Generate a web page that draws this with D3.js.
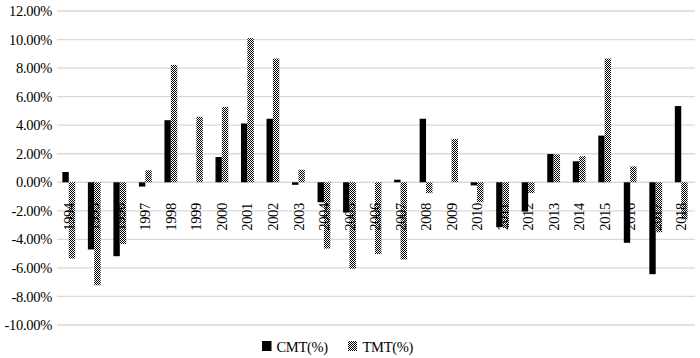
<!DOCTYPE html>
<html><head><meta charset="utf-8">
<script src="https://cdn.jsdelivr.net/npm/d3@7"></script>
<style>body{margin:0;background:#fff}svg{display:block}text{font-family:"Liberation Serif","Times New Roman",serif;fill:#000}</style>
</head><body><svg id="c" width="700" height="358"></svg>
<script>
const years = ["1994","1995","1996","1997","1998","1999","2000","2001","2002","2003","2004","2005","2006","2007","2008","2009","2010","2011","2012","2013","2014","2015","2016","2017","2018"];
const cmt = [0.72,-4.71,-5.18,-0.30,4.35,0,1.77,4.12,4.45,-0.18,-1.40,-2.12,0,0.18,4.45,0,-0.22,-3.15,-2.05,1.98,1.47,3.27,-4.24,-6.44,5.34];
const tmt = [-5.34,-7.22,-4.33,0.84,8.22,4.59,5.27,10.10,8.67,0.88,-4.64,-6.05,-5.03,-5.41,-0.76,3.04,-1.40,-3.20,-0.75,1.95,1.82,8.67,1.11,-3.50,-2.60];
const yTicks = [12,10,8,6,4,2,0,-2,-4,-6,-8,-10];
const seriesNames = ["CMT(%)","TMT(%)"];

const svg = d3.select("#c");
const defs = svg.append("defs");
const pat = defs.append("pattern").attr("id","xpat").attr("patternUnits","userSpaceOnUse").attr("width",4).attr("height",4);
pat.append("rect").attr("width",4).attr("height",4).attr("fill","#fff");
[[0,0],[1,1],[2,2],[3,3],[0,2],[2,0]].forEach(p=>pat.append("rect").attr("x",p[0]).attr("y",p[1]).attr("width",1).attr("height",1).attr("fill","#000"));
[[1,3],[3,1]].forEach(p=>pat.append("rect").attr("x",p[0]).attr("y",p[1]).attr("width",1).attr("height",1).attr("fill","#000"));

const y = d3.scaleLinear().domain([-10,12]).range([325,11]);
const x = d3.scaleBand().domain(years).range([56,694]).padding(0);
const x1 = d3.scaleBand().domain(seriesNames).range([x.bandwidth()/2-6.4, x.bandwidth()/2+6.4]).padding(0);

// gridlines
svg.append("g").selectAll("line").data(yTicks).join("line")
  .attr("x1",57).attr("x2",695).attr("y1",d=>y(d)).attr("y2",d=>y(d))
  .attr("stroke","#d9d9d9").attr("stroke-width",1.3);

// y labels
const fmt = d => d.toFixed(2) + "%";
svg.append("g").selectAll("text").data(yTicks).join("text")
  .attr("x",52).attr("y",d=>y(d)).attr("dy","0.35em").attr("text-anchor","end")
  .attr("font-size",14.5).attr("letter-spacing",-0.3).text(fmt);

const data = [cmt, tmt];
const fills = ["#000","url(#xpat)"];
data.forEach((vals,si)=>{
  svg.append("g").selectAll("rect").data(vals).join("rect")
    .attr("x",(d,i)=>x(years[i])+x1(seriesNames[si]))
    .attr("width",x1.bandwidth())
    .attr("y",d=>y(Math.max(0,d)))
    .attr("height",d=>Math.abs(y(d)-y(0)))
    .attr("fill",fills[si]);
});

// category labels
svg.append("g").selectAll("text").data(years).join("text")
  .attr("transform",d=>`translate(${x(d)+x.bandwidth()/2},203) rotate(-90)`)
  .attr("dy","0.35em").attr("text-anchor","end").attr("font-size",14.5).attr("letter-spacing",-0.3)
  .text(d=>d);

// legend
const lg = svg.append("g");
lg.append("rect").attr("x",262).attr("y",341).attr("width",9.5).attr("height",10).attr("fill","#000");
lg.append("text").attr("x",276.5).attr("y",351.5).attr("font-size",14.5).attr("letter-spacing",-0.3).text(seriesNames[0]);
lg.append("rect").attr("x",348).attr("y",341).attr("width",9).attr("height",10).attr("fill","url(#xpat)");
lg.append("text").attr("x",362.5).attr("y",351.5).attr("font-size",14.5).attr("letter-spacing",-0.3).text(seriesNames[1]);
</script></body></html>
